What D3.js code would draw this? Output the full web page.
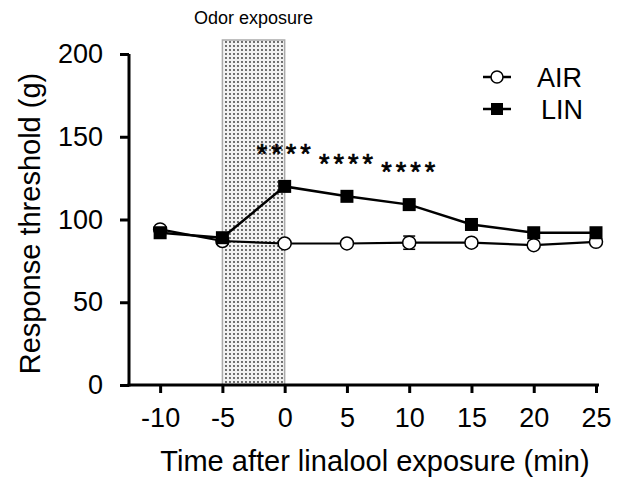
<!DOCTYPE html>
<html>
<head>
<meta charset="utf-8">
<script src="https://cdn.jsdelivr.net/npm/d3@7"></script>
<style>
  body { margin: 0; background: #fff; }
  text { font-family: "Liberation Sans", Arial, sans-serif; }
</style>
</head>
<body>
<svg id="chart" width="621" height="479"></svg>
<script>
// data
const times = [-10, -5, 0, 5, 10, 15, 20, 25];
const airValues = [94, 87, 85.5, 85.5, 86, 86, 84.5, 86.5];
const airErrors = [1.5, 2, 1.5, 1.5, 4, 2, 1.5, 1.5];
const linValues = [92, 89, 120, 114, 109, 97, 92, 92];
const linErrors = [1.5, 1.5, 2, 2, 2, 2, 1.5, 1.5];
const starTimes = [0, 5, 10];
const starValues = [134, 128, 123];
const yTicks = [0, 50, 100, 150, 200];
const xTicks = [-10, -5, 0, 5, 10, 15, 20, 25];
const exposureWindow = [-5, 0];

const svg = d3.select("#chart");

const x = d3.scaleLinear().domain([-12.5, 25]).range([129, 596]);
const y = d3.scaleLinear().domain([0, 200]).range([385, 54]);

// stipple pattern for the odor exposure box
const defs = svg.append("defs");
const pat = defs.append("pattern")
    .attr("id", "dots")
    .attr("patternUnits", "userSpaceOnUse")
    .attr("width", 4)
    .attr("height", 4);
pat.append("rect").attr("width", 4).attr("height", 4).attr("fill", "#f2f2f2");
pat.append("circle").attr("cx", 2).attr("cy", 2).attr("r", 0.9).attr("fill", "#333");

svg.append("rect")
    .attr("x", x(exposureWindow[0]))
    .attr("y", 40)
    .attr("width", x(exposureWindow[1]) - x(exposureWindow[0]))
    .attr("height", y(0) - 40)
    .attr("fill", "url(#dots)")
    .attr("stroke", "#aaa")
    .attr("stroke-width", 1.5);

svg.append("text")
    .attr("x", (x(exposureWindow[0]) + x(exposureWindow[1])) / 2)
    .attr("y", 24)
    .attr("text-anchor", "middle")
    .attr("font-size", 18)
    .text("Odor exposure");

// axes
const yAxis = svg.append("g")
    .attr("transform", `translate(${x(-12.5)},0)`)
    .call(d3.axisLeft(y).tickValues(yTicks).tickSize(9).tickPadding(17).tickSizeOuter(0));
const xAxis = svg.append("g")
    .attr("transform", `translate(0,${y(0)})`)
    .call(d3.axisBottom(x).tickValues(xTicks).tickFormat(d => String(d))
        .tickSize(8).tickPadding(15).tickSizeOuter(0));

[xAxis, yAxis].forEach(ax => {
    ax.select(".domain").attr("stroke", "#000").attr("stroke-width", 3);
    ax.selectAll(".tick line").attr("stroke", "#000").attr("stroke-width", 3);
    ax.selectAll(".tick text")
        .attr("fill", "#000")
        .attr("font-size", 27)
        .attr("font-family", "Liberation Sans, Arial, sans-serif");
});
// extend x domain line slightly left of the y axis
xAxis.select(".domain").attr("d", `M${x(-12.5) - 1.5},0H${x(25) + 3}`);
yAxis.select(".domain").attr("d", `M0,${y(0) + 1.5}V${y(200)}`);

// axis titles
svg.append("text")
    .attr("transform", `translate(40,${(y(0) + y(200)) / 2 + 4}) rotate(-90)`)
    .attr("text-anchor", "middle")
    .attr("font-size", 29)
    .text("Response threshold (g)");

svg.append("text")
    .attr("x", 375)
    .attr("y", 471)
    .attr("text-anchor", "middle")
    .attr("font-size", 29)
    .text("Time after linalool exposure (min)");

const line = d3.line()
    .x((d, i) => x(times[i]))
    .y(d => y(d));

// error bars
function errorBars(vals, errs) {
    const g = svg.append("g").attr("stroke", "#000").attr("stroke-width", 1.5);
    vals.forEach((v, i) => {
        const cx = x(times[i]);
        g.append("line").attr("x1", cx).attr("x2", cx).attr("y1", y(v - errs[i])).attr("y2", y(v + errs[i]));
        g.append("line").attr("x1", cx - 6).attr("x2", cx + 6).attr("y1", y(v - errs[i])).attr("y2", y(v - errs[i]));
        g.append("line").attr("x1", cx - 6).attr("x2", cx + 6).attr("y1", y(v + errs[i])).attr("y2", y(v + errs[i]));
    });
}
errorBars(airValues, airErrors);
errorBars(linValues, linErrors);

svg.append("path")
    .datum(airValues)
    .attr("d", line)
    .attr("fill", "none")
    .attr("stroke", "#000")
    .attr("stroke-width", 2.2);

svg.append("g")
    .selectAll("circle")
    .data(airValues)
    .join("circle")
    .attr("cx", (d, i) => x(times[i]))
    .attr("cy", d => y(d))
    .attr("r", 6.5)
    .attr("fill", "#fff")
    .attr("stroke", "#000")
    .attr("stroke-width", 1.5);

svg.append("path")
    .datum(linValues)
    .attr("d", line)
    .attr("fill", "none")
    .attr("stroke", "#000")
    .attr("stroke-width", 2.5);

svg.append("g")
    .selectAll("rect")
    .data(linValues)
    .join("rect")
    .attr("x", (d, i) => x(times[i]) - 6.5)
    .attr("y", d => y(d) - 6.5)
    .attr("width", 13)
    .attr("height", 13)
    .attr("fill", "#000");

// significance stars
svg.append("g")
    .selectAll("text")
    .data(starValues)
    .join("text")
    .attr("x", (d, i) => x(starTimes[i]) + 1)
    .attr("y", d => y(d))
    .attr("text-anchor", "middle")
    .attr("font-size", 27)
    .attr("letter-spacing", 4)
    .attr("stroke", "#000")
    .attr("stroke-width", 0.7)
    .text("****");

// legend
const legend = svg.append("g");
const legendItems = [{ name: "AIR", cy: 77, shape: "circle" }, { name: "LIN", cy: 109, shape: "square" }];
legendItems.forEach(item => {
    legend.append("line")
        .attr("x1", 483).attr("x2", 511)
        .attr("y1", item.cy).attr("y2", item.cy)
        .attr("stroke", "#000").attr("stroke-width", 2.5);
    if (item.shape === "circle") {
        legend.append("circle").attr("cx", 497).attr("cy", item.cy).attr("r", 6)
            .attr("fill", "#fff").attr("stroke", "#000").attr("stroke-width", 1.5);
    } else {
        legend.append("rect").attr("x", 491).attr("y", item.cy - 6).attr("width", 12).attr("height", 12)
            .attr("fill", "#000");
    }
    legend.append("text")
        .attr("x", item.name === "AIR" ? 537 : 541)
        .attr("y", item.cy + 10)
        .attr("font-size", 27)
        .text(item.name);
});
</script>
</body>
</html>
